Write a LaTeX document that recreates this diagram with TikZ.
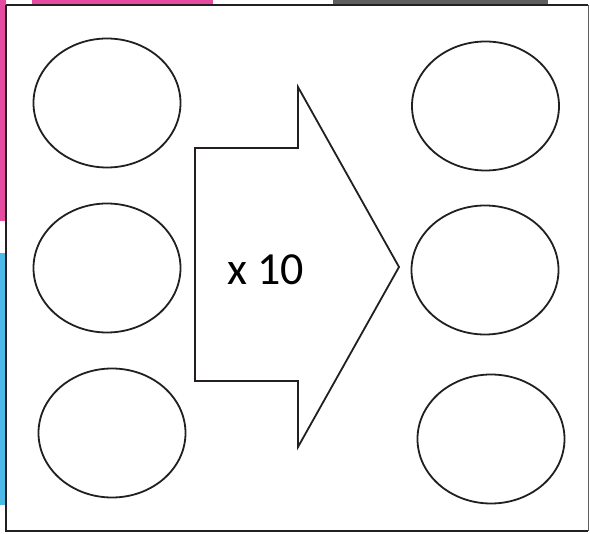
\documentclass[tikz,border=0pt]{standalone}
\usepackage{fontspec}
\setmainfont{Carlito}
\usetikzlibrary{shapes.geometric}
\definecolor{pinkdeco}{HTML}{E54B9F}
\definecolor{bluedeco}{HTML}{4CB9E7}
\definecolor{graydeco}{HTML}{5F5F5F}
\definecolor{ink}{HTML}{231F20}
\tikzset{
  cell/.style={draw=ink, line width=1.8pt, ellipse, minimum width=147pt, minimum height=129pt, inner sep=0pt},
  bigarrow/.style={draw=ink, line width=1.8pt, line join=miter},
  frame/.style={draw=ink, line width=2.4pt},
}
\begin{document}
\begin{tikzpicture}[x=1pt,y=-1pt]
\useasboundingbox (0,0) rectangle (590,534);
% decorative fragments at the edges
\fill[pinkdeco] (32,0) rectangle (213,5);
\fill[pinkdeco] (0,0) rectangle (6,221);
\fill[bluedeco] (0,253) rectangle (6,505);
\fill[graydeco] (333,0) rectangle (548,5);
% frame
\fill[white] (6,5) rectangle (588,531);
\draw[frame] (6,5) -- (588,5);
\draw[frame] (6,5) -- (6,531) -- (588,531);
\draw[draw=graydeco, line width=1pt] (588,5) -- (588,531);
% ellipses
\node[cell] (l1) at (107,103) {};
\node[cell] (l2) at (107,268) {};
\node[cell] (l3) at (112,433) {};
\node[cell] (r1) at (485.5,106) {};
\node[cell] (r2) at (485,270) {};
\node[cell] (r3) at (491,439) {};
% arrow
\draw[bigarrow] (195,148) -- (298,148) -- (298,87) -- (399,267) -- (298,447) -- (298,381) -- (195,381) -- cycle;
\node[font=\fontsize{46}{55}\selectfont, inner sep=0pt] (lbl) at (265.5,270) {x 10};
\end{tikzpicture}
\end{document}
